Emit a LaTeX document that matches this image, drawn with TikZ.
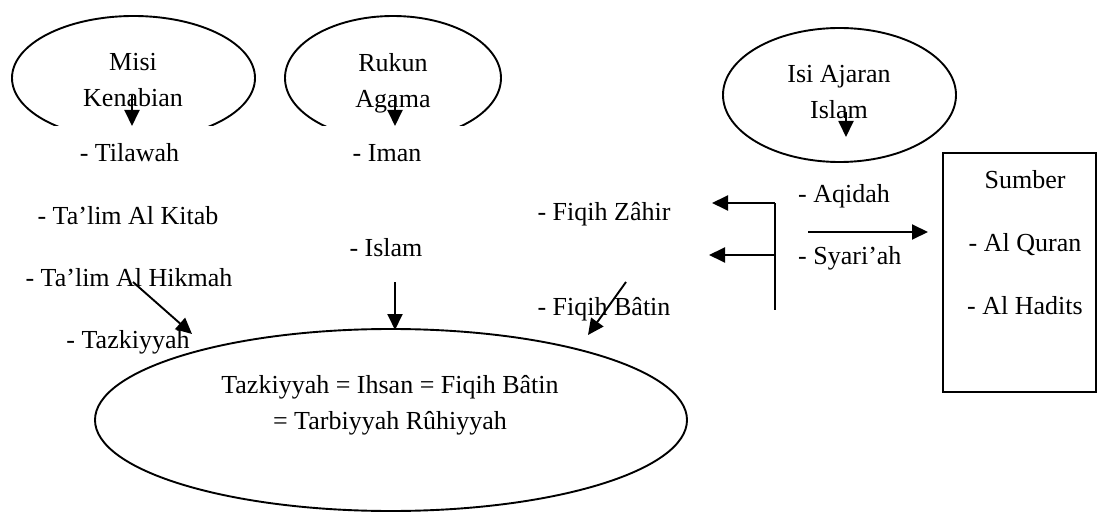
\documentclass[tikz,border=0pt]{standalone}
\usepackage{fontspec}
\setmainfont{Liberation Serif}
\usetikzlibrary{shapes.geometric,arrows.meta}
\begin{document}
\begin{tikzpicture}[x=1pt,y=-1pt,
  txt/.style={font=\fontsize{26}{36}\selectfont, inner sep=0pt},
  lbl/.style={txt, anchor=base},
  lblw/.style={txt, anchor=base west},
  oval/.style={draw, ellipse, line width=1.9pt, inner sep=0pt},
  ln/.style={line width=1.9pt},
  arr/.style={line width=1.9pt, -{Triangle[length=16pt,width=15pt]}}]
\useasboundingbox (0,0) rectangle (1098,513);
\fill[white] (0,0) rectangle (1098,513);
% top ellipses, cut at the bottom
\begin{scope}
  \clip (0,0) rectangle (1098,126);
  \node[oval, minimum width=243pt, minimum height=124pt] (e1) at (133.5,78) {};
  \node[oval, minimum width=216pt, minimum height=124pt] (e2) at (393,78) {};
\end{scope}
\node[txt, align=center] (t1) at (133,80) {Misi\\Kenabian};
\node[txt, align=center] (t2) at (393,83) {Rukun\\Agama};
\node[oval, minimum width=233pt, minimum height=134pt] (e3) at (839.5,95) {};
\node[txt, align=center] (t3) at (839,92) {Isi Ajaran\\Islam};
% big ellipse
\node[oval, minimum width=592pt, minimum height=182pt] (big) at (391,420) {};
\node[txt, align=center] (bigt) at (390,405) {Tazkiyyah = Ihsan = Fiqih Bâtin\\= Tarbiyyah Rûhiyyah};
% box
\node[draw, ln, inner sep=0pt, minimum width=153pt, minimum height=239pt] (box) at (1019.5,272.5) {};
\node[lbl] (sumber) at (1025,189) {Sumber};
\node[lbl] (quran) at (1025,252) {- Al Quran};
\node[lbl] (hadits) at (1025,314) {- Al Hadits};
% left column
\node[lbl] (tilawah) at (129.5,162) {- Tilawah};
\node[lbl] (kitab) at (128,225) {- Ta’lim Al Kitab};
\node[lbl] (hikmah) at (129,287) {- Ta’lim Al Hikmah};
\node[lbl] (tazk) at (128,348) {- Tazkiyyah};
% middle column
\node[lbl] (iman) at (387,162) {- Iman};
\node[lbl] (islam) at (386,257) {- Islam};
\node[lbl] (zahir) at (604,221) {- Fiqih Zâhir};
\node[lbl] (batin) at (604,315) {- Fiqih Bâtin};
% right column
\node[lblw] (aqidah) at (798,203) {- Aqidah};
\node[lblw] (syariah) at (798,265) {- Syari’ah};
% arrow points
\coordinate (a1s) at (132,95);  \coordinate (a1e) at (132,126);
\coordinate (a2s) at (395,95);  \coordinate (a2e) at (395,126);
\coordinate (a3s) at (846,112); \coordinate (a3e) at (846,137);
\coordinate (d1s) at (133,282); \coordinate (d1e) at (192,334);
\coordinate (d2s) at (395,282); \coordinate (d2e) at (395,330);
\coordinate (d3s) at (626,282); \coordinate (d3e) at (588,335);
\coordinate (rs) at (808,232);  \coordinate (re) at (928,232);
\coordinate (vt) at (775,203);  \coordinate (vm) at (775,255); \coordinate (vb) at (775,310);
\coordinate (zt) at (712,203);  \coordinate (zm) at (709,255);
\draw[arr] (a1s) -- (a1e);
\draw[arr] (a2s) -- (a2e);
\draw[arr] (a3s) -- (a3e);
\draw[arr] (d1s) -- (d1e);
\draw[arr] (d2s) -- (d2e);
\draw[arr] (d3s) -- (d3e);
\draw[arr] (rs) -- (re);
\draw[ln] (vt) -- (vb);
\draw[arr] (vt) -- (zt);
\draw[arr] (vm) -- (zm);
\end{tikzpicture}
\end{document}
